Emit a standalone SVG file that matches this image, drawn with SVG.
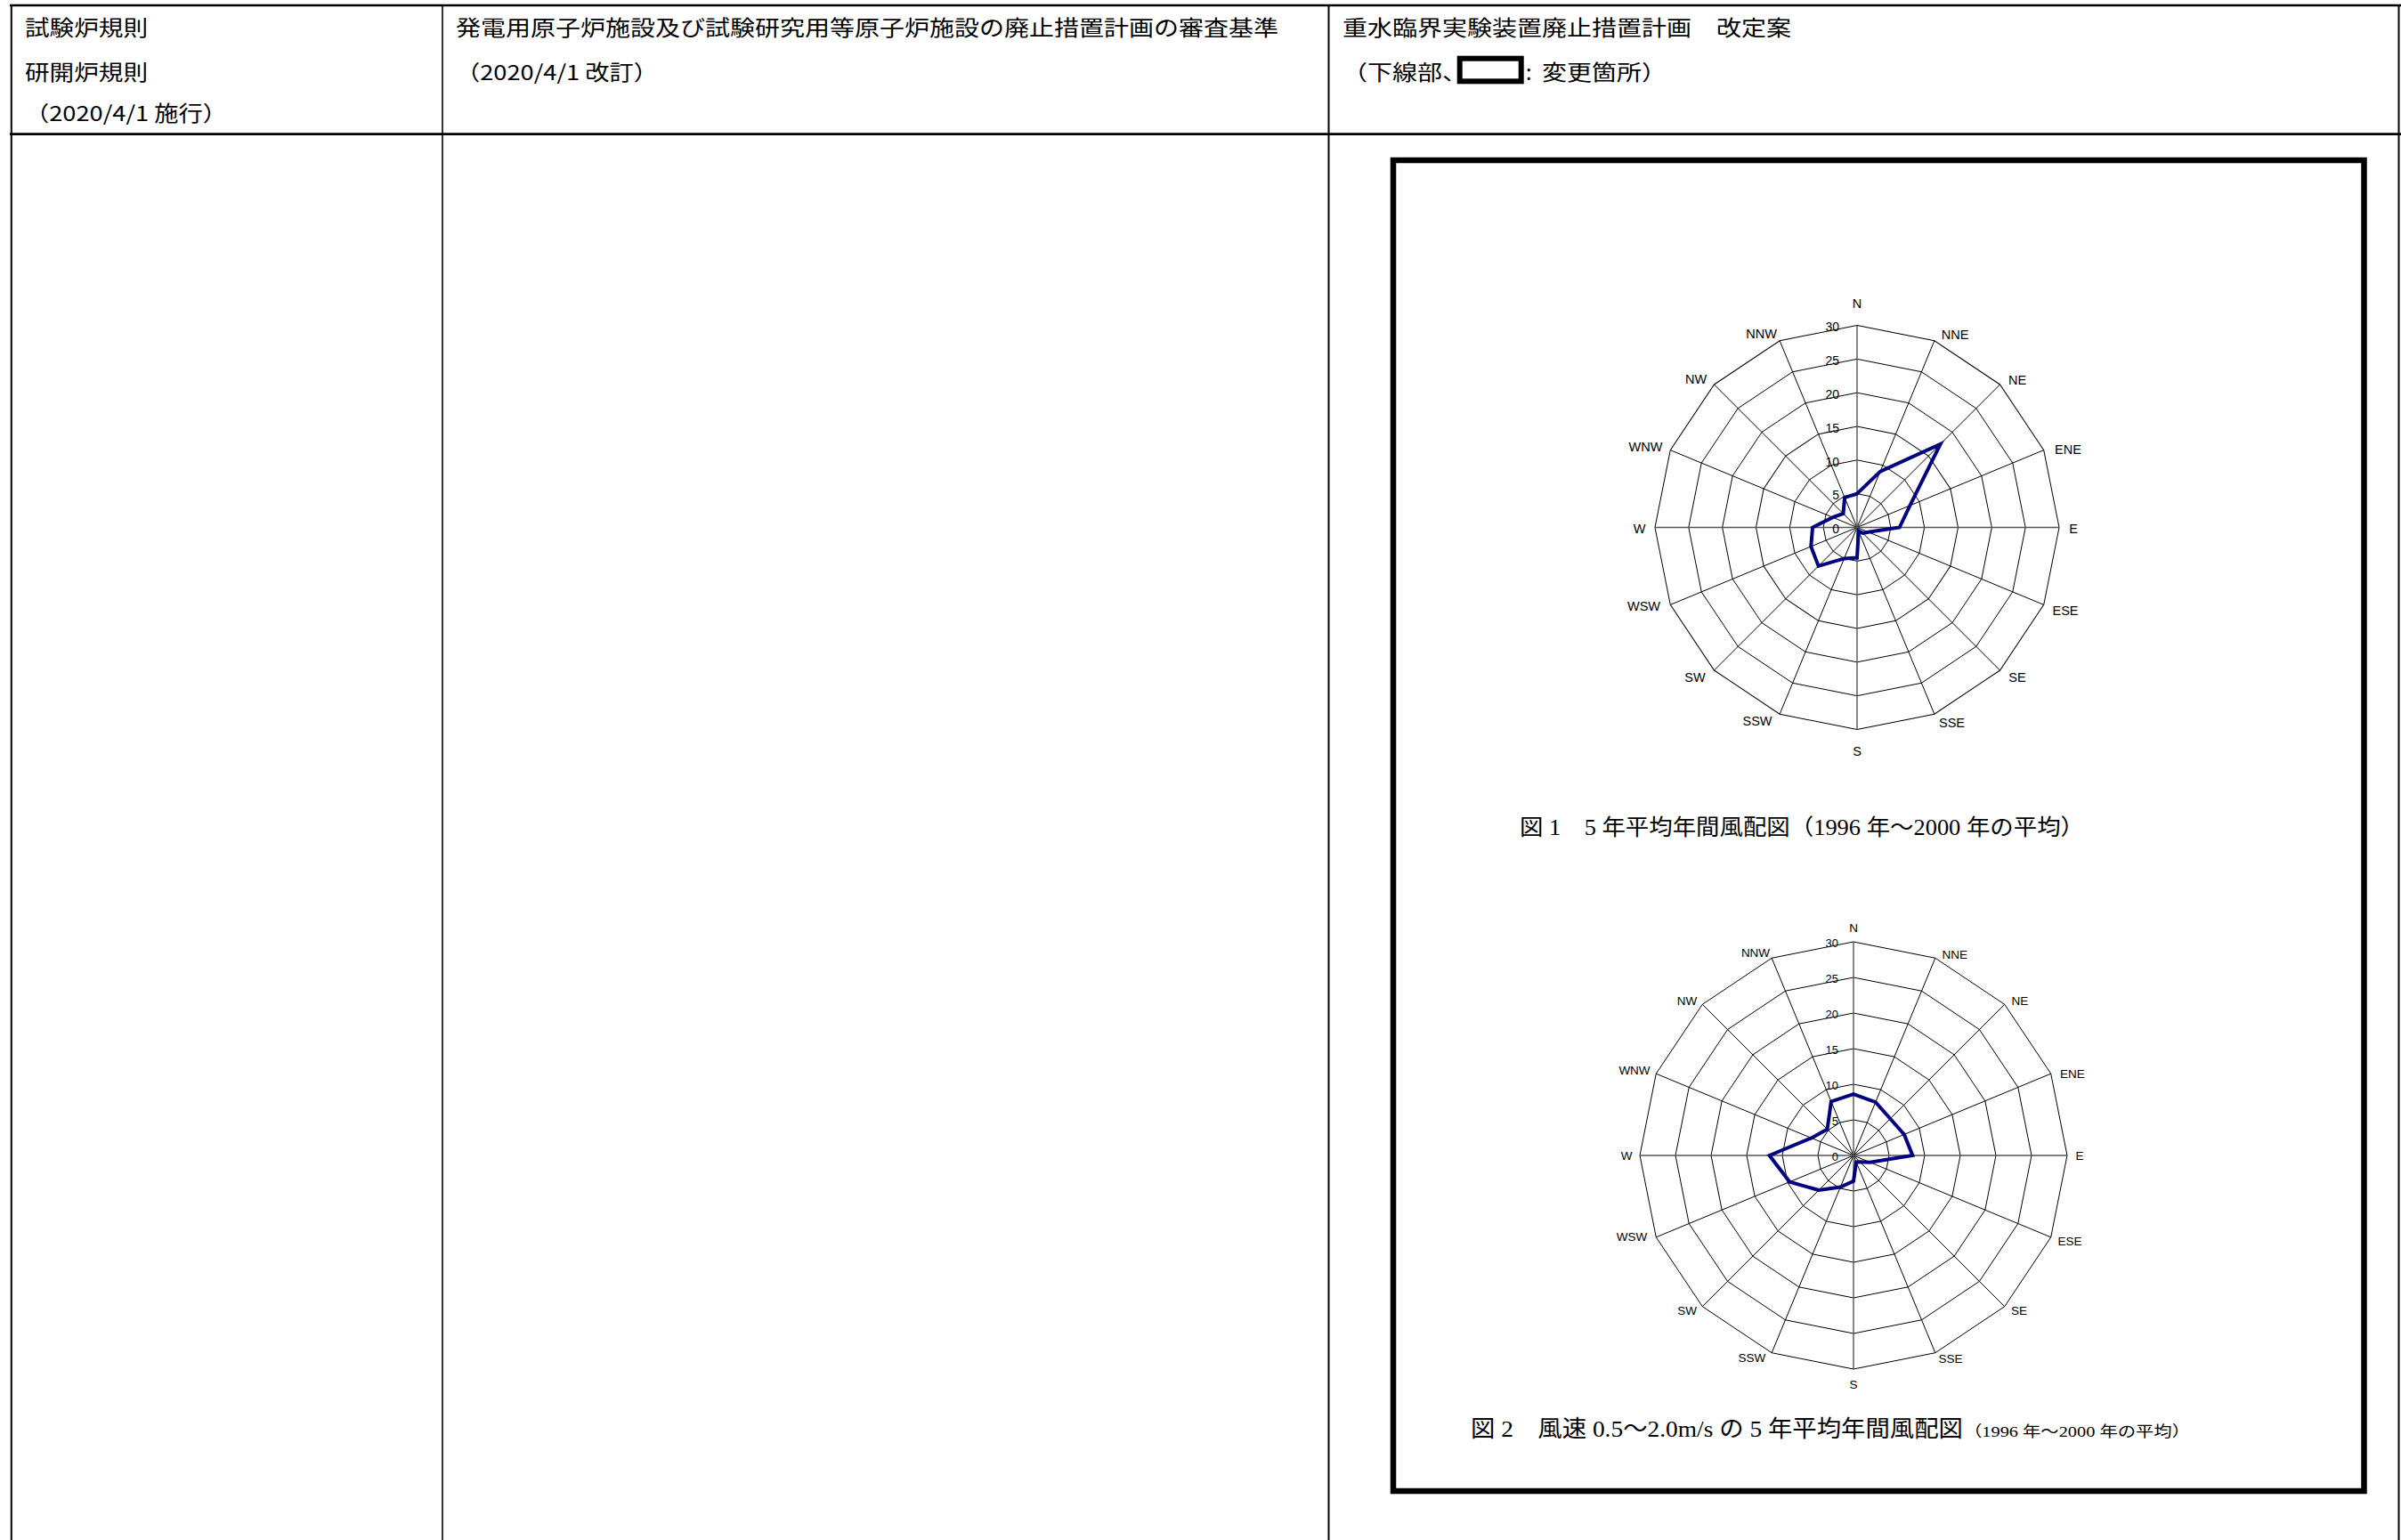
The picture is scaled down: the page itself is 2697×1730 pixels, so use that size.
<svg xmlns="http://www.w3.org/2000/svg" width="2697" height="1730" viewBox="0 0 2697 1730">
<style>
.hd{font-family:"Noto Sans CJK JP","Noto Sans CJK SC",sans-serif;font-size:23.5px;fill:#000}
.cap{font-family:"Liberation Serif","Noto Sans CJK JP",serif;fill:#000}
.lbl{font-family:"Liberation Sans",Arial,sans-serif;fill:#000;text-anchor:middle}
.num{font-family:"Liberation Sans",Arial,sans-serif;fill:#000;text-anchor:end}
.grid{fill:none;stroke:#000;stroke-width:1;vector-effect:non-scaling-stroke}
.axis{stroke:#555;stroke-width:1.4;vector-effect:non-scaling-stroke}
.spoke{stroke:#000;stroke-width:1;vector-effect:non-scaling-stroke}
.data{fill:none;stroke:#000080;stroke-width:4;stroke-linejoin:miter;vector-effect:non-scaling-stroke}
.tl{stroke:#000;fill:none}
</style>
<defs>
<polygon id="ring" class="grid" points="0,-1 0.38268,-0.92388 0.70711,-0.70711 0.92388,-0.38268 1,0 0.92388,0.38268 0.70711,0.70711 0.38268,0.92388 0,1 -0.38268,0.92388 -0.70711,0.70711 -0.92388,0.38268 -1,0 -0.92388,-0.38268 -0.70711,-0.70711 -0.38268,-0.92388"/>
<g id="grid">
<use href="#ring" transform="scale(5)"/>
<use href="#ring" transform="scale(10)"/>
<use href="#ring" transform="scale(15)"/>
<use href="#ring" transform="scale(20)"/>
<use href="#ring" transform="scale(25)"/>
<use href="#ring" transform="scale(30)"/>
<line class="spoke" x1="0" y1="0" x2="11.480" y2="-27.716"/>
<line class="spoke" x1="0" y1="0" x2="21.213" y2="-21.213"/>
<line class="spoke" x1="0" y1="0" x2="27.716" y2="-11.480"/>
<line class="spoke" x1="0" y1="0" x2="27.716" y2="11.480"/>
<line class="spoke" x1="0" y1="0" x2="21.213" y2="21.213"/>
<line class="spoke" x1="0" y1="0" x2="11.480" y2="27.716"/>
<line class="spoke" x1="0" y1="0" x2="-11.480" y2="27.716"/>
<line class="spoke" x1="0" y1="0" x2="-21.213" y2="21.213"/>
<line class="spoke" x1="0" y1="0" x2="-27.716" y2="11.480"/>
<line class="spoke" x1="0" y1="0" x2="-27.716" y2="-11.480"/>
<line class="spoke" x1="0" y1="0" x2="-21.213" y2="-21.213"/>
<line class="spoke" x1="0" y1="0" x2="-11.480" y2="-27.716"/>
<line class="axis" x1="0" y1="-30" x2="0" y2="30"/>
<line class="axis" x1="-30" y1="0" x2="30" y2="0"/>
</g>
</defs>

<g id="table">
<line class="tl" x1="11" y1="6" x2="2697" y2="6" stroke-width="2.5"/>
<line class="tl" x1="11" y1="150.7" x2="2697" y2="150.7" stroke-width="2.7"/>
<line class="tl" x1="12.8" y1="5" x2="12.8" y2="1730" stroke-width="2"/>
<line class="tl" x1="497" y1="5" x2="497" y2="1730" stroke-width="1.6"/>
<line class="tl" x1="1492.5" y1="5" x2="1492.5" y2="1730" stroke-width="2"/>
<line class="tl" x1="2694.5" y1="5" x2="2694.5" y2="1730" stroke-width="2"/>
</g>

<g id="header-col1">
<text class="hd" x="28" y="40" textLength="138" lengthAdjust="spacingAndGlyphs">試験炉規則</text>
<text class="hd" x="28" y="89.5" textLength="138" lengthAdjust="spacingAndGlyphs">研開炉規則</text>
<text class="hd" x="28" y="135.5" textLength="227" lengthAdjust="spacingAndGlyphs">（2020/4/1 施行）</text>
</g>

<g id="header-col2">
<text class="hd" x="512" y="40" textLength="924" lengthAdjust="spacingAndGlyphs">発電用原子炉施設及び試験研究用等原子炉施設の廃止措置計画の審査基準</text>
<text class="hd" x="512" y="89.5" textLength="227" lengthAdjust="spacingAndGlyphs">（2020/4/1 改訂）</text>
</g>

<g id="header-col3">
<text class="hd" x="1508" y="40" textLength="504" lengthAdjust="spacingAndGlyphs">重水臨界実験装置廃止措置計画　改定案</text>
<text class="hd" x="1508" y="89.5" textLength="140" lengthAdjust="spacingAndGlyphs">（下線部、</text>
<rect x="1639.7" y="65.7" width="69" height="25.6" fill="none" stroke="#000" stroke-width="6"/>
<text class="hd" x="1714" y="89.5">:</text>
<text class="hd" x="1732" y="89.5" textLength="140" lengthAdjust="spacingAndGlyphs">変更箇所）</text>
</g>

<g id="figure-frame">
<rect x="1565" y="180" width="1090.5" height="1495" fill="none" stroke="#000" stroke-width="6.5"/>
</g>

<g id="chart1">
<g transform="translate(2086,592.5) scale(7.5667)">
<use href="#grid"/>
</g>
<text class="num" font-size="14" x="2066" y="599.2">0</text>
<text class="num" font-size="14" x="2066" y="561.4">5</text>
<text class="num" font-size="14" x="2066" y="523.5">10</text>
<text class="num" font-size="14" x="2066" y="485.7">15</text>
<text class="num" font-size="14" x="2066" y="447.9">20</text>
<text class="num" font-size="14" x="2066" y="410.0">25</text>
<text class="num" font-size="14" x="2066" y="372.2">30</text>
<g transform="translate(2086,592.5) scale(7.5667)">
<polygon class="data" points="0,-5 3.444,-8.315 12.374,-12.374 7.853,-3.253 6.3,0 1.663,0.689 0.849,0.849 0.230,0.554 0,4.5 -1.913,4.619 -5.728,5.728 -6.837,2.832 -6.6,0 -3.603,-1.492 -2.051,-2.051 -1.837,-4.435"/>
</g>
<g font-size="14.5">
<text class="lbl" x="2086" y="345.8">N</text>
<text class="lbl" x="2196" y="381.2">NNE</text>
<text class="lbl" x="2266" y="431.8">NE</text>
<text class="lbl" x="2323" y="510.2">ENE</text>
<text class="lbl" x="2329" y="598.8">E</text>
<text class="lbl" x="2320" y="691.2">ESE</text>
<text class="lbl" x="2266" y="765.9">SE</text>
<text class="lbl" x="2192.5" y="817.2">SSE</text>
<text class="lbl" x="2086" y="849.2">S</text>
<text class="lbl" x="1974" y="815.2">SSW</text>
<text class="lbl" x="1904" y="765.9">SW</text>
<text class="lbl" x="1846.5" y="685.8">WSW</text>
<text class="lbl" x="1841.7" y="598.8">W</text>
<text class="lbl" x="1848.4" y="506.6">WNW</text>
<text class="lbl" x="1905" y="431.2">NW</text>
<text class="lbl" x="1978.6" y="380.2">NNW</text>
</g>
</g>

<g id="caption1">
<text class="cap" x="1707" y="938" font-size="25" textLength="634" lengthAdjust="spacingAndGlyphs">図 1　5 年平均年間風配図（1996 年～2000 年の平均）</text>
</g>

<g id="chart2">
<g transform="translate(2082,1298) scale(8)">
<use href="#grid"/>
</g>
<text class="num" font-size="13" x="2065" y="1304.4">0</text>
<text class="num" font-size="13" x="2065" y="1264.4">5</text>
<text class="num" font-size="13" x="2065" y="1224.4">10</text>
<text class="num" font-size="13" x="2065" y="1184.4">15</text>
<text class="num" font-size="13" x="2065" y="1144.4">20</text>
<text class="num" font-size="13" x="2065" y="1104.4">25</text>
<text class="num" font-size="13" x="2065" y="1064.4">30</text>
<g transform="translate(2082,1298) scale(8)">
<polygon class="data" points="0,-8.6 3.100,-7.483 5.162,-5.162 7.114,-2.947 8.3,0 2.310,0.957 0.919,0.919 0.383,0.924 0,3.6 -1.837,4.435 -4.879,4.879 -8.962,3.712 -11.8,0 -5.913,-2.449 -3.677,-3.677 -3.138,-7.576"/>
</g>
<g font-size="13.5">
<text class="lbl" x="2082" y="1046.9">N</text>
<text class="lbl" x="2195.8" y="1076.9">NNE</text>
<text class="lbl" x="2269" y="1128.9">NE</text>
<text class="lbl" x="2328" y="1210.9">ENE</text>
<text class="lbl" x="2336" y="1302.9">E</text>
<text class="lbl" x="2325" y="1398.9">ESE</text>
<text class="lbl" x="2268" y="1476.9">SE</text>
<text class="lbl" x="2191" y="1530.9">SSE</text>
<text class="lbl" x="2082" y="1559.9">S</text>
<text class="lbl" x="1968" y="1529.9">SSW</text>
<text class="lbl" x="1895" y="1476.9">SW</text>
<text class="lbl" x="1833" y="1393.9">WSW</text>
<text class="lbl" x="1827" y="1302.9">W</text>
<text class="lbl" x="1836" y="1206.9">WNW</text>
<text class="lbl" x="1895" y="1128.9">NW</text>
<text class="lbl" x="1972" y="1074.9">NNW</text>
</g>
</g>

<g id="caption2">
<text class="cap" x="1652" y="1614" font-size="26" textLength="553" lengthAdjust="spacingAndGlyphs">図 2　風速 0.5～2.0m/s の 5 年平均年間風配図</text>
<text class="cap" x="2206" y="1614" font-size="17" textLength="254" lengthAdjust="spacingAndGlyphs">（1996 年～2000 年の平均）</text>
</g>
</svg>
